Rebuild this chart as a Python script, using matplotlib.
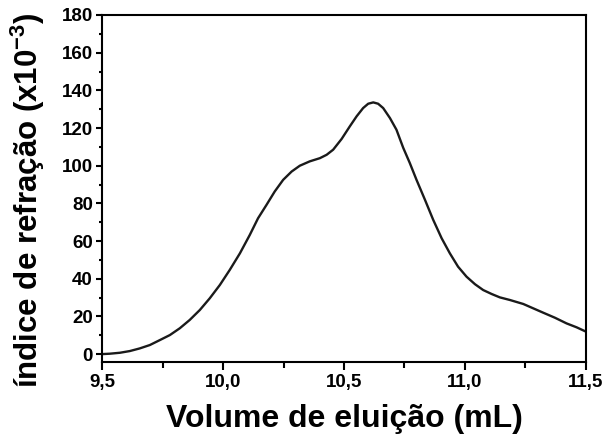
import numpy as np
import matplotlib.pyplot as plt
from matplotlib.ticker import MultipleLocator

plt.rcParams['font.family'] = ['Liberation Sans', 'DejaVu Sans']
plt.rcParams['font.weight'] = 'bold'
plt.rcParams['mathtext.fontset'] = 'custom'
plt.rcParams['mathtext.rm'] = 'Liberation Sans:bold'
plt.rcParams['mathtext.bf'] = 'Liberation Sans:bold'

# elution volume (mL) vs refractive index signal (x10^-3)
volume = [9.500, 9.530, 9.572, 9.613, 9.654, 9.696, 9.737, 9.779, 9.820, 9.861,
          9.903, 9.944, 9.986, 10.027, 10.069, 10.110, 10.144, 10.179, 10.213,
          10.248, 10.283, 10.317, 10.358, 10.400, 10.428, 10.455, 10.490, 10.524,
          10.552, 10.579, 10.600, 10.621, 10.641, 10.662, 10.690, 10.717, 10.745,
          10.772, 10.800, 10.835, 10.869, 10.904, 10.938, 10.972, 11.007, 11.042,
          11.076, 11.111, 11.145, 11.187, 11.242, 11.283, 11.324, 11.373, 11.421,
          11.463, 11.500]
signal = [0.0, 0.2, 0.7, 1.6, 3.0, 4.8, 7.4, 10.1, 13.7, 18.1,
          23.4, 29.6, 36.7, 44.7, 53.5, 63.3, 72.1, 79.2, 86.3,
          92.5, 96.9, 100.0, 102.3, 104.0, 105.8, 108.5, 114.2, 120.9,
          126.2, 130.6, 132.9, 133.6, 132.9, 130.6, 125.3, 119.1, 109.5,
          101.5, 92.5, 81.9, 71.3, 61.5, 53.5, 46.4, 41.1, 37.1,
          34.0, 31.9, 30.1, 28.7, 26.6, 24.3, 22.0, 19.3, 16.3,
          14.2, 12.0]

x_ticks = [9.5, 10.0, 10.5, 11.0, 11.5]
x_labels = ['9,5', '10,0', '10,5', '11,0', '11,5']
y_ticks = [0, 20, 40, 60, 80, 100, 120, 140, 160, 180]

fig = plt.figure(figsize=(6.1, 4.41), dpi=100)
ax = fig.add_axes([0.168, 0.18, 0.792, 0.786])

ax.plot(volume, signal, color='#1a1a1a', lw=1.7, solid_joinstyle='round')

ax.set_xlim(9.5, 11.5)
ax.set_ylim(-4, 180)
ax.set_xticks(x_ticks)
ax.set_xticklabels(x_labels)
ax.set_yticks(y_ticks)
ax.xaxis.set_minor_locator(MultipleLocator(0.25))
ax.yaxis.set_minor_locator(MultipleLocator(10))

for s in ax.spines.values():
    s.set_linewidth(1.5)
ax.tick_params(which='major', direction='out', length=4.5, width=1.5,
               labelsize=13.5, pad=2.5)
ax.tick_params(which='minor', direction='out', length=2.5, width=1.5)
ax.tick_params(axis='x', which='major', length=6, pad=3)
ax.tick_params(axis='x', which='minor', length=4)

ax.set_xlabel('Volume de eluição (mL)', fontsize=23, fontweight='bold', labelpad=9)
ax.set_ylabel(r'índice de refração (x10$^{-3}$)', fontsize=22.5, fontweight='bold')
ax.yaxis.set_label_coords(-0.115, 0.465)

fig.savefig('out.png', dpi=100)
